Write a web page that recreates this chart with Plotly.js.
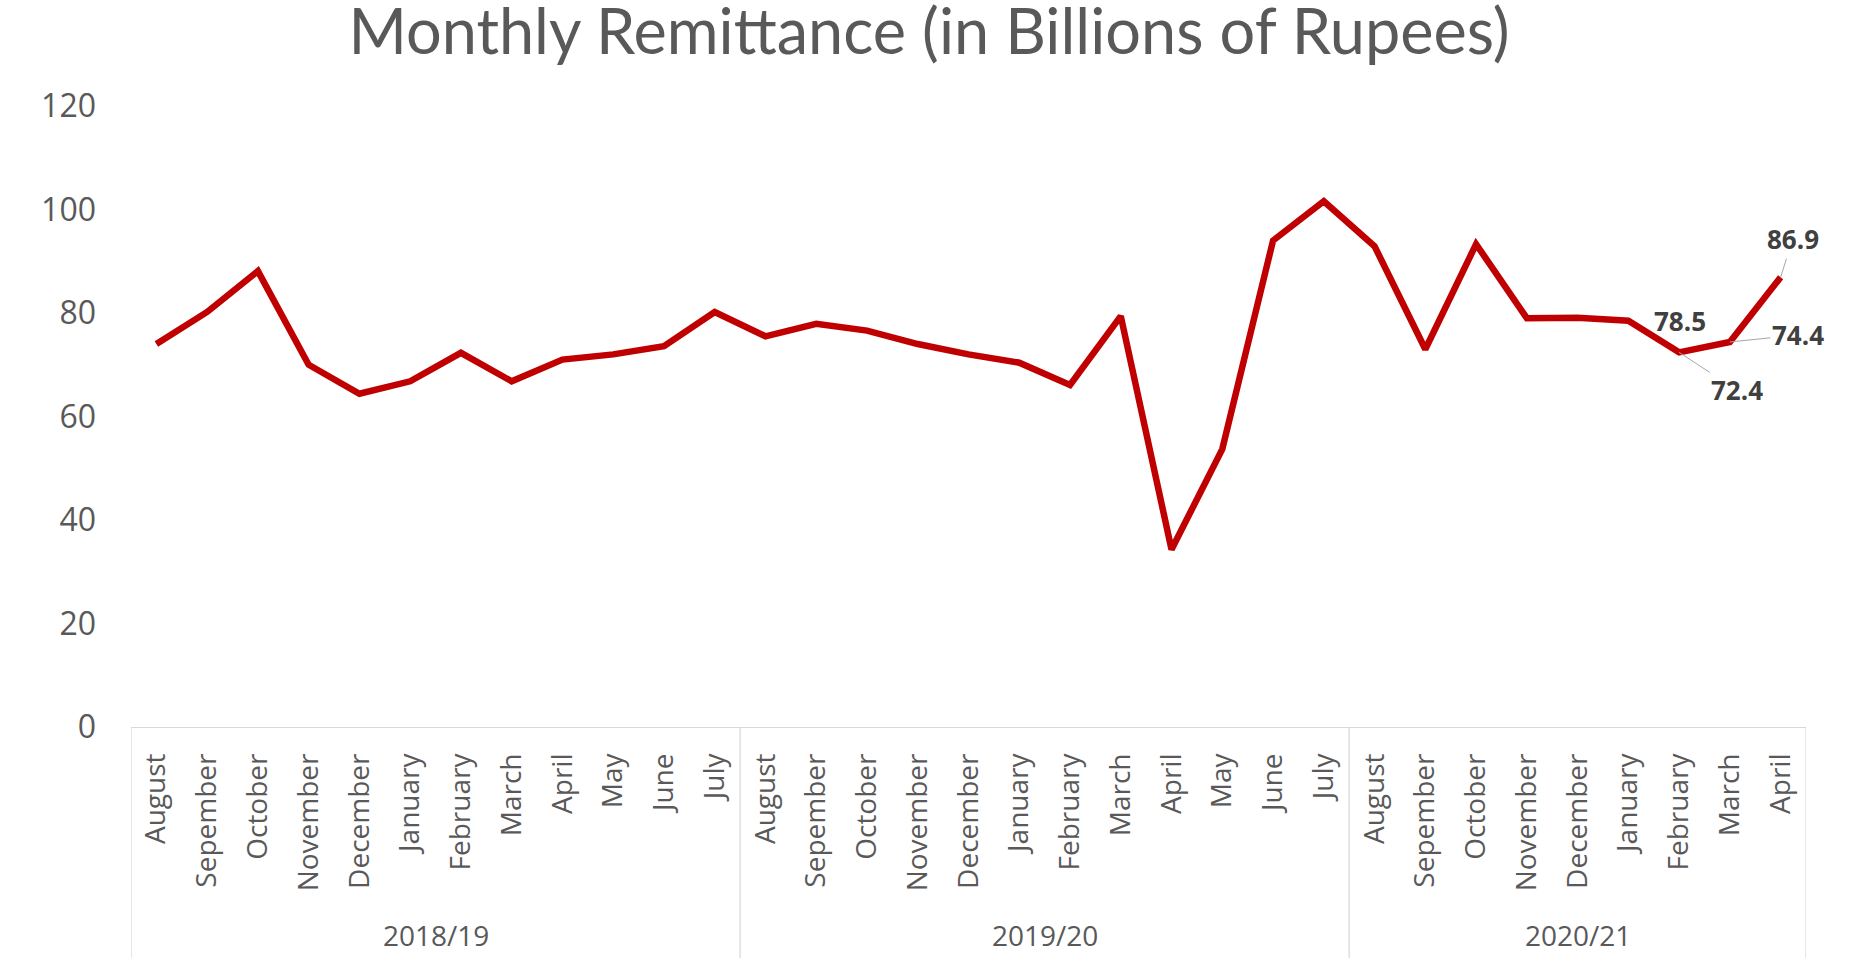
<!DOCTYPE html>
<html>
<head>
<meta charset="utf-8">
<script src="https://cdn.plot.ly/plotly-3.0.1.min.js"></script>
<style>
  html, body { margin: 0; padding: 0; background: #ffffff; }
  #chart { width: 1858px; height: 958px; }
</style>
</head>
<body>
<div id="chart"></div>
<script>
const fiscalYears = ["2018/19", "2019/20", "2020/21"];
const months2018_19 = ["August", "Sepember", "October", "November", "December", "January", "February", "March", "April", "May", "June", "July"];
const months2019_20 = ["August", "Sepember", "October", "November", "December", "January", "February", "March", "April", "May", "June", "July"];
const months2020_21 = ["August", "Sepember", "October", "November", "December", "January", "February", "March", "April"];
const values2018_19 = [74.0, 80.2, 88.1, 70.0, 64.4, 66.8, 72.3, 66.8, 71.0, 72.0, 73.6, 80.2];
const values2019_20 = [75.5, 77.9, 76.6, 74.0, 72.0, 70.4, 66.1, 79.4, 34.3, 53.7, 94.0, 101.6];
const values2020_21 = [92.9, 73.0, 93.3, 79.0, 79.1, 78.5, 72.4, 74.4, 86.9];
const labelledLast = 4; // last four points carry data labels
const yTickVals = [0, 20, 40, 60, 80, 100, 120];

const groups = [months2018_19, months2019_20, months2020_21];
const months = [].concat(months2018_19, months2019_20, months2020_21);
const values = [].concat(values2018_19, values2019_20, values2020_21);
const idx = months.map((_, i) => i);

const shapes = [];
const annotations = [];
let start = 0;
const axisGray = "#d9d9d9";
const belowDepth = -231 / 621;
shapes.push({type: "line", xref: "x", yref: "paper", x0: -0.5, x1: -0.5, y0: 0, y1: belowDepth, line: {color: axisGray, width: 1.3}});
groups.forEach((g, gi) => {
  const end = start + g.length;
  shapes.push({type: "line", xref: "x", yref: "paper", x0: end - 0.5, x1: end - 0.5, y0: 0, y1: belowDepth, line: {color: axisGray, width: 1.3}});
  annotations.push({
    xref: "x", yref: "paper", x: (start + end - 1) / 2, y: -(935 - 727) / 621,
    text: fiscalYears[gi], showarrow: false, yanchor: "middle", xanchor: "center",
    font: {family: "Open Sans", size: 28, color: "#595959"}
  });
  start = end;
});

const labelOffsets = [[52, 0, false], [58, 38, true], [68, -7, true], [12, -38, true]];
for (let k = 0; k < labelledLast; k++) {
  const i = values.length - labelledLast + k;
  const o = labelOffsets[k];
  const a = {
    xref: "x", yref: "y", x: idx[i], y: values[i],
    text: values[i].toFixed(1),
    font: {family: "Open Sans", size: 26, color: "#404040", weight: 700},
    xanchor: "center", yanchor: "middle"
  };
  if (o[2]) {
    Object.assign(a, {showarrow: true, ax: o[0], ay: o[1], arrowhead: 0, arrowwidth: 1, arrowcolor: "#a6a6a6", standoff: 0});
  } else {
    Object.assign(a, {showarrow: false, xshift: o[0], yshift: -o[1]});
  }
  annotations.push(a);
}

const trace = {
  x: idx, y: values, type: "scatter", mode: "lines",
  line: {color: "#C00000", width: 6.5, shape: "linear"},
  hoverinfo: "x+y"
};

const layout = {
  width: 1858, height: 958,
  margin: {l: 131, r: 52, t: 106, b: 231},
  paper_bgcolor: "#ffffff", plot_bgcolor: "#ffffff",
  showlegend: false,
  title: {
    text: "Monthly Remittance (in Billions of Rupees)",
    x: 0.5, xanchor: "center", xref: "container",
    y: 1 - 32 / 958, yanchor: "middle", yref: "container",
    font: {family: "Lato", size: 63, color: "#595959"}
  },
  xaxis: {
    range: [-0.5, months.length - 0.5],
    tickmode: "array", tickvals: idx, ticktext: months,
    tickangle: -90, ticks: "", showgrid: false, zeroline: false,
    showline: true, linecolor: axisGray, linewidth: 1.3,
    tickfont: {family: "Open Sans", size: 28, color: "#595959"},
    ticklabelstandoff: 14, fixedrange: true
  },
  yaxis: {
    range: [0, 120], tickvals: yTickVals, ticks: "",
    showgrid: false, zeroline: false, showline: false,
    tickfont: {family: "Open Sans", size: 32, color: "#595959"},
    ticklabelstandoff: 34, fixedrange: true
  },
  shapes: shapes,
  annotations: annotations
};

Plotly.newPlot("chart", [trace], layout, {displayModeBar: false, staticPlot: true});
</script>
</body>
</html>
